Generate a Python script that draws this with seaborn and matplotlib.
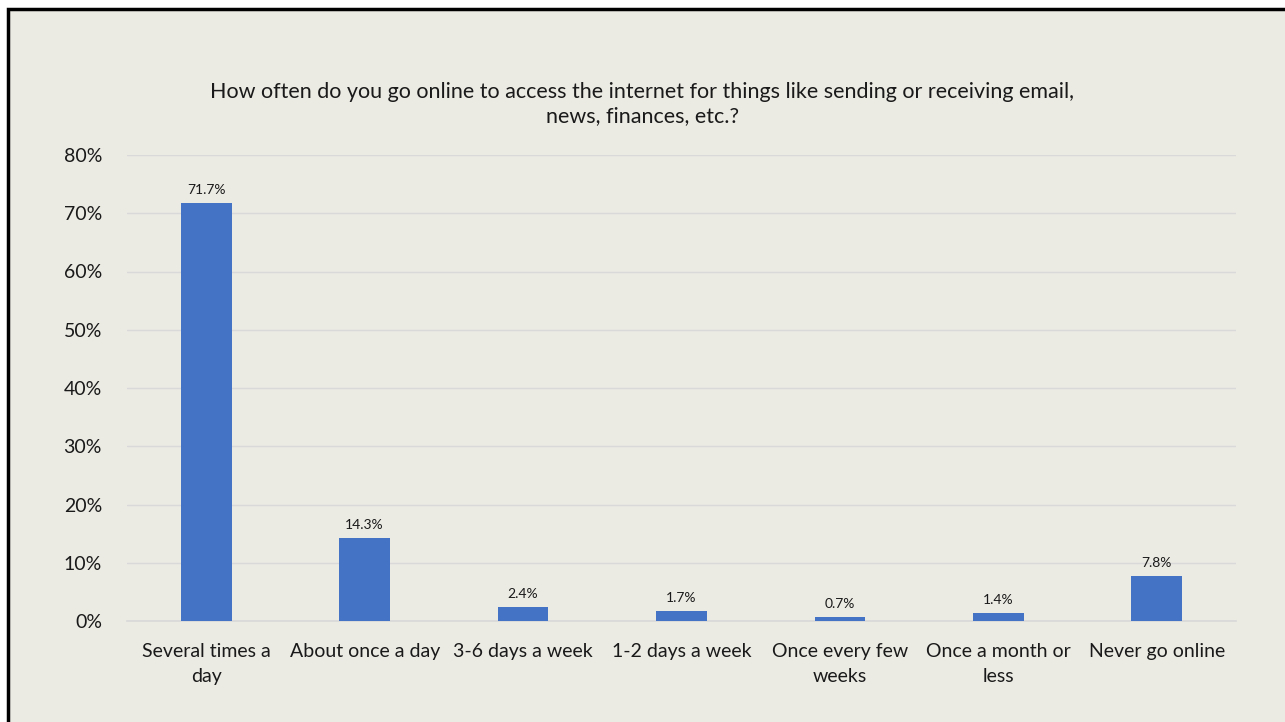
import matplotlib
matplotlib.use("Agg")
import matplotlib.pyplot as plt
from matplotlib.patches import Rectangle
from matplotlib.ticker import PercentFormatter
import seaborn as sns
import pandas as pd

categories = ["Several times a\nday", "About once a day", "3-6 days a week", "1-2 days a week",
              "Once every few\nweeks", "Once a month or\nless", "Never go online"]
values = [71.7, 14.3, 2.4, 1.7, 0.7, 1.4, 7.8]
title = ("How often do you go online to access the internet for things like sending or receiving email,\n"
         "news, finances, etc.?")

df = pd.DataFrame({"category": categories, "pct": values})

sns.set_theme(style="white")
plt.rcParams["font.family"] = ["Lato", "DejaVu Sans"]

bg = "#EBEAE3"
fig = plt.figure(figsize=(12.85, 7.22), dpi=100, facecolor="white")
fig.patches.append(Rectangle((8 / 1285, -0.1), 1.2, 1.1 - 9 / 722, transform=fig.transFigure,
                             facecolor=bg, edgecolor="black", linewidth=2.5, zorder=-5))
ax = fig.add_axes([127 / 1285, 101 / 722, 1109 / 1285, 466 / 722])
ax.set_zorder(2)
ax.patch.set_alpha(0)

sns.barplot(data=df, x="category", y="pct", color="#4472C4", width=0.32, saturation=1,
            linewidth=0, ax=ax, zorder=3)

ax.set_ylim(0, 80)
ax.set_yticks(range(0, 81, 10))
ax.yaxis.set_major_formatter(PercentFormatter(decimals=0))
ax.grid(axis="y", color="#D9D9D9", linewidth=1, zorder=0)
ax.set_axisbelow(True)
for s in ["top", "right", "left"]:
    ax.spines[s].set_visible(False)
ax.spines["bottom"].set_color("#D9D9D9")
ax.set_xlabel("")
ax.set_ylabel("")
ax.tick_params(axis="both", length=0, labelsize=14, colors="#1a1a1a")
ax.tick_params(axis="x", pad=16)
ax.tick_params(axis="y", pad=18)
for lbl in ax.get_xticklabels():
    lbl.set_linespacing(1.55)

for c in ax.containers:
    ax.bar_label(c, labels=[f"{v:.1f}%" for v in values], padding=5, fontsize=10, color="#1a1a1a")

fig.text(0.5, 1 - 104 / 722, title, ha="center", va="center", fontsize=15.5, color="#1a1a1a",
         linespacing=1.3)

fig.savefig("out.png", dpi=100, facecolor="white")
